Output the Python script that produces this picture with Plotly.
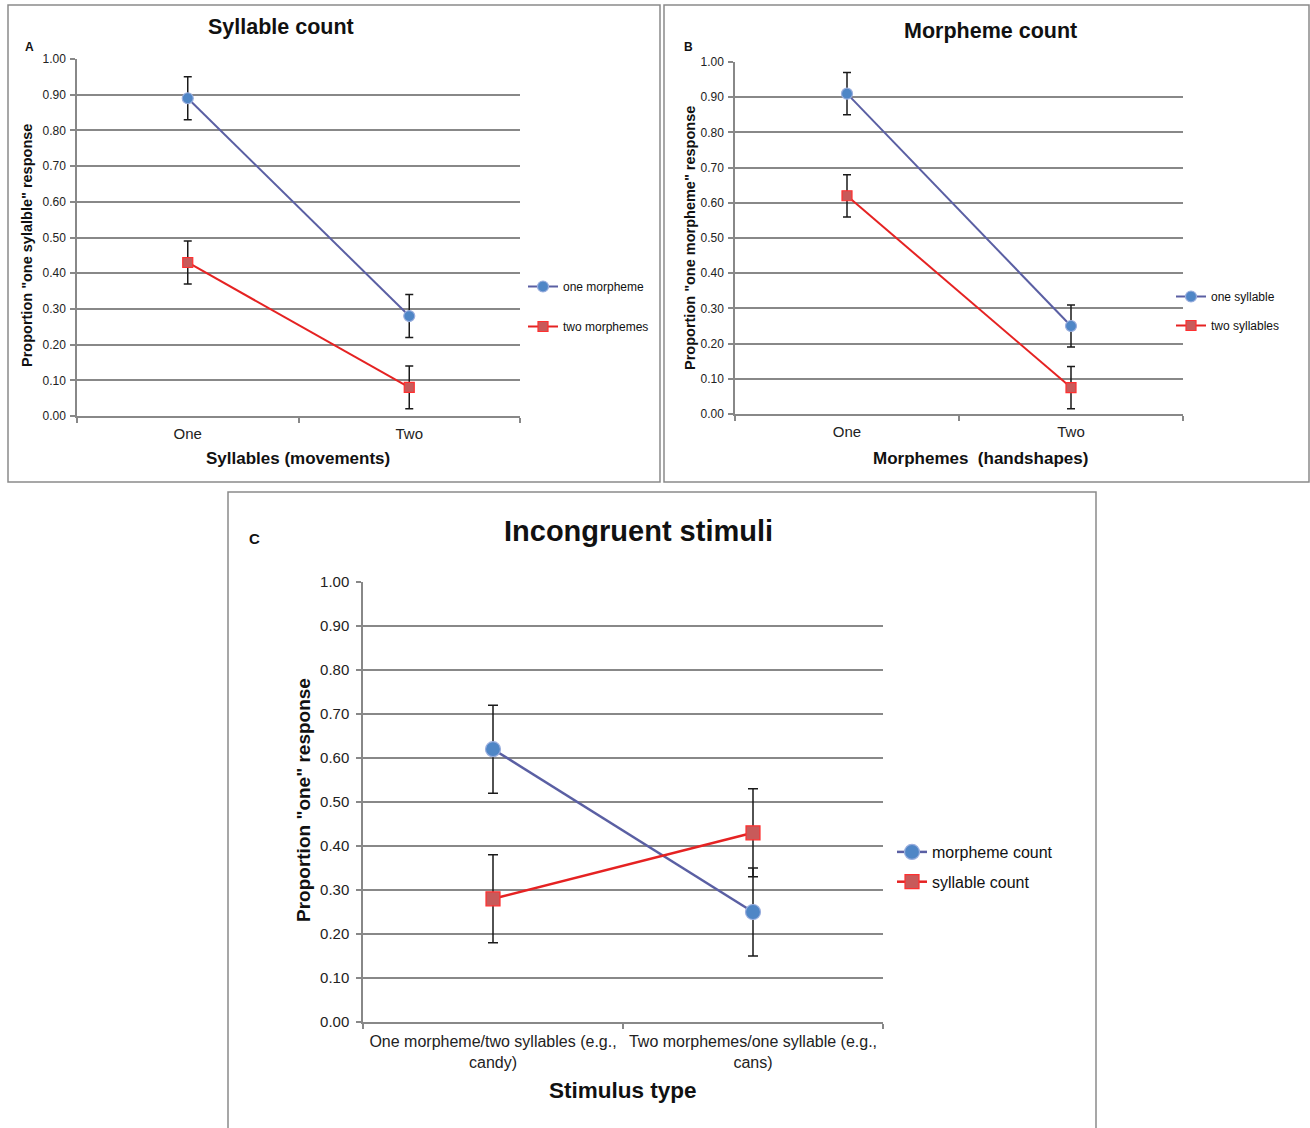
import plotly.graph_objects as go

# ---------------- data ----------------
cats_A = ["One", "Two"]
A_one_morpheme = [0.89, 0.28]
A_one_morpheme_err = [0.06, 0.06]
A_two_morphemes = [0.43, 0.08]
A_two_morphemes_err = [0.06, 0.06]

cats_B = ["One", "Two"]
B_one_syllable = [0.91, 0.25]
B_one_syllable_err = [0.06, 0.06]
B_two_syllables = [0.62, 0.075]
B_two_syllables_err = [0.06, 0.06]

cats_C = ["One morpheme/two syllables (e.g.,<br>candy)",
          "Two morphemes/one syllable (e.g.,<br>cans)"]
C_morpheme_count = [0.62, 0.25]
C_morpheme_count_err = [0.10, 0.10]
C_syllable_count = [0.28, 0.43]
C_syllable_count_err = [0.10, 0.10]

y_ticks = [0.0, 0.1, 0.2, 0.3, 0.4, 0.5, 0.6, 0.7, 0.8, 0.9, 1.0]

# ---------------- styles ----------------
W, H = 1310, 1128
FONT = "Liberation Sans, Arial, sans-serif"
BLUE_LINE = "#5a5fa3"
BLUE_FILL = "#4f86c6"
BLUE_EDGE = "#9aaede"
RED_LINE = "#e52222"
RED_FILL = "#c85a5a"
RED_EDGE = "#ff3030"
GRID = "#888888"


def px(x):
    return x / W


def py(y):
    return 1 - y / H


fig = go.Figure()


def add_series(xs, ys, err, name, color_line, fill, edge, symbol, msize,
               lw, xa, ya, legend, capw, group):
    fig.add_trace(go.Scatter(
        x=xs, y=ys, name=name, mode="lines+markers",
        line=dict(color=color_line, width=lw),
        marker=dict(symbol=symbol, size=msize, color=fill,
                    line=dict(color=edge, width=1.2)),
        error_y=dict(type="data", array=err, visible=True,
                     color="#1a1a1a", thickness=1.5, width=capw),
        xaxis=xa, yaxis=ya, legend=legend, legendgroup=group,
    ))


# Panel A
add_series(cats_A, A_one_morpheme, A_one_morpheme_err, "one morpheme",
           BLUE_LINE, BLUE_FILL, BLUE_EDGE, "circle", 11, 2, "x", "y",
           "legend", 4, "a1")
add_series(cats_A, A_two_morphemes, A_two_morphemes_err, "two morphemes",
           RED_LINE, RED_FILL, RED_EDGE, "square", 10, 2, "x", "y",
           "legend", 4, "a2")
# Panel B
add_series(cats_B, B_one_syllable, B_one_syllable_err, "one syllable",
           BLUE_LINE, BLUE_FILL, BLUE_EDGE, "circle", 11, 2, "x2", "y2",
           "legend2", 4, "b1")
add_series(cats_B, B_two_syllables, B_two_syllables_err, "two syllables",
           RED_LINE, RED_FILL, RED_EDGE, "square", 10, 2, "x2", "y2",
           "legend2", 4, "b2")
# Panel C
add_series(cats_C, C_morpheme_count, C_morpheme_count_err, "morpheme count",
           BLUE_LINE, BLUE_FILL, BLUE_EDGE, "circle", 15, 2.5, "x3", "y3",
           "legend3", 5, "c1")
add_series(cats_C, C_syllable_count, C_syllable_count_err, "syllable count",
           RED_LINE, RED_FILL, RED_EDGE, "square", 14, 2.5, "x3", "y3",
           "legend3", 5, "c2")


def xaxis(domain, anchor, fsize, standoff):
    return dict(domain=domain, anchor=anchor, type="category",
                range=[-0.5, 1.5], tickson="boundaries", ticks="outside",
                ticklen=5, tickcolor=GRID, tickwidth=1.5,
                showline=True, linecolor=GRID, linewidth=1.5,
                showgrid=False, zeroline=False, fixedrange=True,
                automargin=False, ticklabelstandoff=standoff,
                tickfont=dict(family=FONT, size=fsize, color="#222"))


def yaxis(domain, anchor, fsize, standoff):
    return dict(domain=domain, anchor=anchor, range=[0, 1],
                tickvals=y_ticks, tickformat=".2f", ticks="outside",
                ticklen=5, tickcolor=GRID, tickwidth=1.5,
                showline=True, linecolor=GRID, linewidth=1.5,
                showgrid=True, gridcolor=GRID, gridwidth=1.6,
                zeroline=False, fixedrange=True, automargin=False,
                ticklabelstandoff=standoff,
                tickfont=dict(family=FONT, size=fsize, color="#222"))


fig.update_layout(
    width=W, height=H,
    margin=dict(l=0, r=0, t=0, b=0, pad=0, autoexpand=False),
    paper_bgcolor="white", plot_bgcolor="white",
    font=dict(family=FONT, color="#111"),
    xaxis=xaxis([px(77), px(520)], "y", 15, 3),
    yaxis=yaxis([py(416), py(59)], "x", 12, 2),
    xaxis2=xaxis([px(735), px(1183)], "y2", 15, 3),
    yaxis2=yaxis([py(414), py(62)], "x2", 12, 2),
    xaxis3=xaxis([px(363), px(883)], "y3", 16, 4),
    yaxis3=yaxis([py(1022), py(582)], "x3", 15, 4),
    legend=dict(x=px(523), y=py(272), xanchor="left", yanchor="top",
                font=dict(family=FONT, size=12, color="#111"),
                tracegroupgap=21, itemwidth=30, bgcolor="rgba(0,0,0,0)"),
    legend2=dict(x=px(1171), y=py(282), xanchor="left", yanchor="top",
                 font=dict(family=FONT, size=12, color="#111"),
                 tracegroupgap=10, itemwidth=30, bgcolor="rgba(0,0,0,0)"),
    legend3=dict(x=px(892), y=py(835), xanchor="left", yanchor="top",
                 font=dict(family=FONT, size=16, color="#111"),
                 tracegroupgap=6, itemwidth=30, bgcolor="rgba(0,0,0,0)"),
    showlegend=True,
)

# panel frames
for (x0, y0, x1, y1) in [(8, 5, 660, 482), (664, 5, 1309, 482),
                         (228, 492, 1096, 1140)]:
    fig.add_shape(type="rect", xref="paper", yref="paper",
                  x0=px(x0), x1=px(x1), y0=py(y0), y1=py(y1),
                  line=dict(color="#8a8a8a", width=1.5), layer="below")


def ann(text, x, y, size, bold=True, angle=0):
    fig.add_annotation(text=f"<b>{text}</b>" if bold else text,
                       xref="paper", yref="paper", x=px(x), y=py(y),
                       xanchor="center", yanchor="middle", showarrow=False,
                       textangle=angle,
                       font=dict(family=FONT, size=size, color="#111"))


# titles and labels
ann("Syllable count", 281, 27, 21.5)
ann("Morpheme count", 990, 31, 21.5)
ann("Incongruent stimuli", 638, 531, 29)
ann("A", 29, 47, 12)
ann("B", 688, 47, 12)
ann("C", 254, 538, 15)
ann("Syllables (movements)", 298, 458, 17)
ann("Morphemes  (handshapes)", 981, 458, 17)
ann("Stimulus type", 623, 1090, 22.5)
ann('Proportion "one sylalble" response', 27, 246, 14.5, angle=-90)
ann('Proportion "one morpheme" response', 690, 238, 14.5, angle=-90)
ann('Proportion "one" response', 303, 800, 19, angle=-90)

fig.write_html(
    "out.html",
    config={"displayModeBar": False},
    post_script=(
        "var b=document.body.style;b.margin='0';b.padding='0';"
        "b.overflow='hidden';"
        "document.documentElement.style.overflow='hidden';"
    ),
)
